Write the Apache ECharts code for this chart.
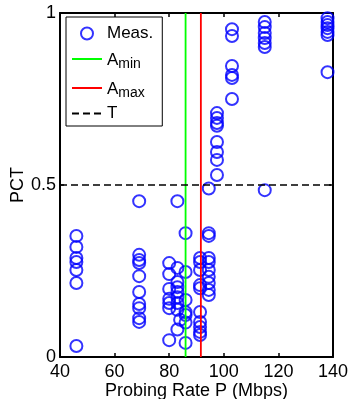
<!DOCTYPE html>
<html><head><meta charset="utf-8">
<script src="https://cdn.jsdelivr.net/npm/echarts@6/dist/echarts.min.js"></script>
<style>html,body{margin:0;padding:0;background:#fff}#c{width:349px;height:399px}</style>
</head><body><div id="c"></div>
<script>
// Probing rates (Mbps) of each measurement column
const rates = [46, 69, 80, 83, 84, 86, 91.3, 94.5, 97.5, 103, 115, 138];
// PCT values measured at each rate (same order as rates)
const pct46 = [0.352, 0.320, 0.288, 0.276, 0.253, 0.215, 0.032];
const pct69 = [0.453, 0.297, 0.282, 0.273, 0.235, 0.189, 0.154, 0.142, 0.113, 0.102];
const pct80 = [0.273, 0.241, 0.198, 0.169, 0.157, 0.142, 0.049];
const pct83 = [0.453, 0.259, 0.218, 0.203, 0.189, 0.174, 0.157, 0.137, 0.080];
const pct84 = [0.108];
const pct86 = [0.360, 0.247, 0.166, 0.130, 0.122, 0.100, 0.041];
const pct91 = [0.288, 0.276, 0.253, 0.209, 0.200, 0.131, 0.102, 0.087, 0.073, 0.064];
const pct94 = [0.490, 0.360, 0.352, 0.288, 0.276, 0.253, 0.233, 0.215, 0.195, 0.180];
const pct97 = [0.709, 0.695, 0.680, 0.672, 0.625, 0.596, 0.573, 0.529];
const pct103 = [0.953, 0.933, 0.846, 0.820, 0.811, 0.750];
const pct115 = [0.974, 0.959, 0.942, 0.927, 0.913, 0.901, 0.485];
const pct138 = [0.985, 0.974, 0.965, 0.956, 0.945, 0.936, 0.828];
const pctByRate = [pct46, pct69, pct80, pct83, pct84, pct86, pct91, pct94, pct97, pct103, pct115, pct138];

const aMin = 86.0;   // A_min (Mbps)
const aMax = 91.6;   // A_max (Mbps)
const threshold = 0.5; // T
const xTicks = [40, 60, 80, 100, 120, 140];
const yTicks = [0, 0.5, 1];

const measData = [];
rates.forEach((r, i) => pctByRate[i].forEach(v => measData.push([r, v])));

const font = 'Liberation Sans, Arial, Helvetica, sans-serif';
const chart = echarts.init(document.getElementById('c'), null, {renderer: 'canvas'});

const axisCommon = {
  axisLine: {show: true, onZero: false, lineStyle: {color: '#000', width: 2}},
  axisTick: {show: true, inside: true, length: 4, lineStyle: {color: '#000', width: 1.5}},
  splitLine: {show: false}
};
const hiddenSym = {color: 'rgba(0,0,0,0)', borderColor: 'rgba(0,0,0,0)', borderWidth: 0};

chart.setOption({
  animation: false,
  backgroundColor: '#fff',
  grid: {left: 60, right: 16, top: 13, bottom: 42, containLabel: false, outerBoundsMode: 'none'},
  legend: {
    orient: 'vertical', left: 66, top: 17,
    backgroundColor: '#fff', borderColor: '#000', borderWidth: 1,
    padding: [8, 9, 4, 5], itemGap: 5, itemWidth: 30, itemHeight: 12,
    textStyle: {fontSize: 17, color: '#000', fontFamily: font,
      rich: {
        b: {fontSize: 17, lineHeight: 14, color: '#000', fontFamily: font},
        a: {fontSize: 17, lineHeight: 14, color: '#000', fontFamily: font, verticalAlign: 'top'},
        s: {fontSize: 14, lineHeight: 14, color: '#000', fontFamily: font, padding: [10, 0, 0, 0]}
      }},
    data: [
      {name: 'Meas.'},
      {name: 'Amin', itemStyle: hiddenSym},
      {name: 'Amax', itemStyle: hiddenSym},
      {name: 'T', itemStyle: hiddenSym}
    ],
    formatter: n => n === 'Amin' ? '{a|A}{s|min}' : n === 'Amax' ? '{a|A}{s|max}' : '{b|' + n + '}'
  },
  xAxis: [
    Object.assign({type: 'value', position: 'bottom', min: xTicks[0], max: xTicks[xTicks.length - 1], interval: 20,
      name: 'Probing Rate P (Mbps)', nameLocation: 'middle', nameGap: 25, nameMoveOverlap: false,
      nameTextStyle: {fontSize: 18, color: '#000', fontFamily: font},
      axisLabel: {fontSize: 18, color: '#000', fontFamily: font, margin: 6}}, axisCommon),
    Object.assign({type: 'value', position: 'top', min: xTicks[0], max: xTicks[xTicks.length - 1], interval: 20,
      axisLabel: {show: false}}, axisCommon)
  ],
  yAxis: [
    Object.assign({type: 'value', position: 'left', min: yTicks[0], max: yTicks[yTicks.length - 1], interval: 0.5,
      name: 'PCT', nameLocation: 'middle', nameGap: 33, nameRotate: 90, nameMoveOverlap: false,
      nameTextStyle: {fontSize: 18, color: '#000', fontFamily: font},
      axisLabel: {fontSize: 18, color: '#000', fontFamily: font, margin: 4,
        formatter: v => String(v)}}, axisCommon),
    Object.assign({type: 'value', position: 'right', min: yTicks[0], max: yTicks[yTicks.length - 1], interval: 0.5,
      axisLabel: {show: false}}, axisCommon)
  ],
  series: [
    {name: 'Meas.', type: 'scatter', data: measData, symbol: 'circle', symbolSize: 12,
      itemStyle: {color: 'rgba(255,255,255,0)', borderColor: '#0000ff', borderWidth: 2}, z: 2},
    {name: 'Amin', type: 'line', data: [[aMin, 0], [aMin, 1]], symbol: 'none',
      itemStyle: {color: '#00ff00'}, lineStyle: {color: '#00ff00', width: 1.8}, z: 3},
    {name: 'Amax', type: 'line', data: [[aMax, 0], [aMax, 1]], symbol: 'none',
      itemStyle: {color: '#ff0000'}, lineStyle: {color: '#ff0000', width: 1.8}, z: 3},
    {name: 'T', type: 'line', data: [[xTicks[0], threshold], [xTicks[xTicks.length - 1], threshold]], symbol: 'none',
      itemStyle: {color: '#000'}, lineStyle: {color: '#000', width: 1.6, type: [7, 4]}, z: 3}
  ]
});
</script></body></html>
